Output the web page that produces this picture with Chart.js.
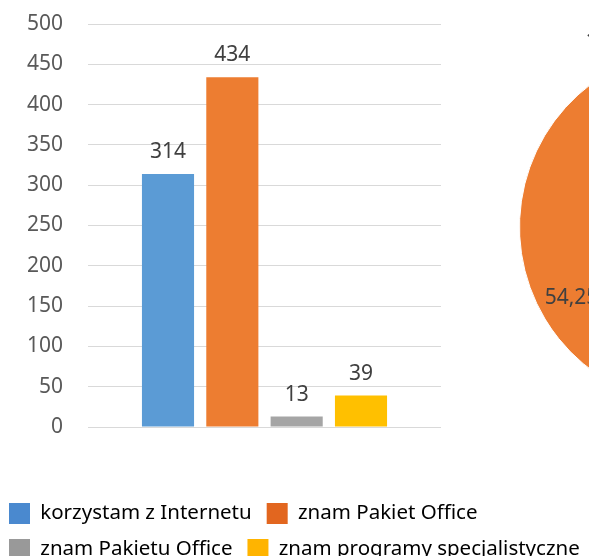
<!DOCTYPE html>
<html>
<head>
<meta charset="utf-8">
<script src="https://cdn.jsdelivr.net/npm/chart.js@4/dist/chart.umd.min.js"></script>
<style>
  html, body { margin: 0; padding: 0; background: #fff; }
  #wrap { position: relative; width: 589px; height: 556px; overflow: hidden; }
  #barBox { position: absolute; left: 0; top: 0; width: 589px; height: 570px; }
  #pieBox { position: absolute; left: 508px; top: 0; width: 380px; height: 454px; }
</style>
</head>
<body>
<div id="wrap">
  <div id="barBox"><canvas id="barChart"></canvas></div>
  <div id="pieBox"><canvas id="pieChart"></canvas></div>
</div>
<script>
const seriesNames = ['korzystam z Internetu', 'znam Pakiet Office', 'znam Pakietu Office', 'znam programy specjalistyczne'];
const seriesValues = [314, 434, 13, 39];
const barColors = ['#5B9BD5', '#ED7D31', '#A5A5A5', '#FFC000'];
const legendColors = ['#4A89CF', '#E2661F', '#999999', '#FFB400'];
const yTicks = [0, 50, 100, 150, 200, 250, 300, 350, 400, 450, 500];

const total = seriesValues.reduce((a, b) => a + b, 0);
const fontFamily = '"Noto Sans", "Open Sans", sans-serif';

// value labels over the bars
const barLabels = {
  id: 'barLabels',
  afterDatasetsDraw(chart) {
    const ctx = chart.ctx;
    ctx.save();
    ctx.font = '21px ' + fontFamily;
    ctx.fillStyle = '#404040';
    ctx.textAlign = 'center';
    ctx.textBaseline = 'alphabetic';
    chart.data.datasets.forEach((ds, i) => {
      const bar = chart.getDatasetMeta(i).data[0];
      ctx.fillText(ds.data[0], bar.x, bar.y - 16);
    });
    ctx.restore();
  }
};

// percent labels on the pie
const pieLabels = {
  id: 'pieLabels',
  afterDatasetsDraw(chart) {
    const ctx = chart.ctx;
    const meta = chart.getDatasetMeta(0);
    ctx.save();
    ctx.font = '21px ' + fontFamily;
    ctx.fillStyle = '#404040';
    meta.data.forEach((arc, i) => {
      const v = seriesValues[i];
      const txt = (v / total * 100).toFixed(2).replace('.', ',') + '%';
      const mid = (arc.startAngle + arc.endAngle) / 2;
      const cx = Math.cos(mid), cy = Math.sin(mid);
      if (v / total > 0.1) {
        const d = arc.outerRadius * 0.77;
        ctx.textAlign = 'center';
        ctx.textBaseline = 'middle';
        ctx.fillText(txt, arc.x + cx * d, arc.y + cy * d);
      } else {
        // small slices: label just outside the rim
        const d = arc.outerRadius + 8;
        const w = ctx.measureText(txt).width;
        const ax = arc.x + cx * d;
        ctx.textAlign = 'left';
        ctx.textBaseline = cy < 0 ? 'bottom' : 'top';
        ctx.fillText(txt, cx < 0 ? ax - w * 0.8 : ax - w * 0.2, arc.y + cy * d);
      }
    });
    ctx.restore();
  }
};

new Chart(document.getElementById('barChart'), {
  type: 'bar',
  data: {
    labels: [''],
    datasets: seriesNames.map((name, i) => ({
      label: name,
      data: [seriesValues[i]],
      backgroundColor: barColors[i],
      categoryPercentage: 0.729,
      barPercentage: 0.81
    }))
  },
  options: {
    responsive: true,
    maintainAspectRatio: false,
    animation: false,
    // negative side padding lets the legend use the full width
    layout: { padding: { top: 24, left: -6, right: -40, bottom: 0 } },
    plugins: {
      tooltip: { enabled: false },
      legend: {
        position: 'bottom',
        align: 'start',
        labels: {
          boxWidth: 21,
          boxHeight: 21,
          padding: 15,
          color: '#262626',
          font: { family: fontFamily, size: 20.5 },
          generateLabels: chart => chart.data.datasets.map((ds, i) => ({
            text: ds.label,
            fillStyle: legendColors[i],
            strokeStyle: legendColors[i],
            lineWidth: 0,
            datasetIndex: i
          }))
        }
      }
    },
    scales: {
      x: {
        grid: { display: false },
        border: { display: false },
        ticks: { display: false },
        afterFit(s) { s.height = 61; }
      },
      y: {
        min: 0,
        max: 500,
        afterBuildTicks(s) { s.ticks = yTicks.map(v => ({ value: v })); },
        grid: { color: '#d9d9d9', lineWidth: 1, drawTicks: true, tickLength: 25, tickColor: 'rgba(0,0,0,0)' },
        border: { display: false },
        ticks: { padding: 0, color: '#595959', font: { family: fontFamily, size: 21 } },
        afterFit(s) { s.width = 94; }
      },
      spacer: {
        type: 'linear',
        position: 'right',
        grid: { display: false },
        border: { display: false },
        ticks: { display: false },
        afterFit(s) { s.width = 188; }
      }
    }
  },
  plugins: [barLabels]
});

new Chart(document.getElementById('pieChart'), {
  type: 'pie',
  data: {
    labels: seriesNames,
    datasets: [{
      data: seriesValues,
      backgroundColor: barColors,
      borderColor: '#ffffff',
      borderWidth: 1
    }]
  },
  options: {
    responsive: true,
    maintainAspectRatio: false,
    animation: false,
    layout: { padding: 11 },
    plugins: { legend: { display: false }, tooltip: { enabled: false } }
  },
  plugins: [pieLabels]
});
</script>
</body>
</html>
